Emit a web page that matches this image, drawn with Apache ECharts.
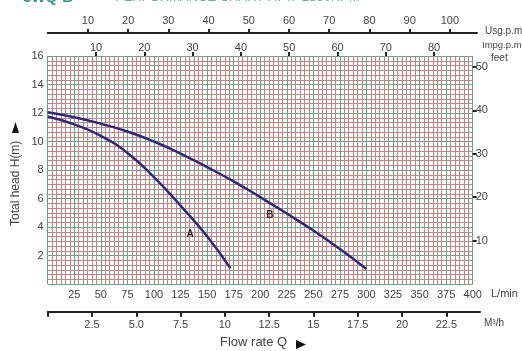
<!DOCTYPE html>
<html>
<head>
<meta charset="utf-8">
<script src="https://cdn.jsdelivr.net/npm/echarts@6/dist/echarts.min.js"></script>
<style>
html,body{margin:0;padding:0;background:#fff;}
#c{width:522px;height:351px;}
</style>
</head>
<body>
<div id="c"></div>
<script>
// ---- data ----
const curveA_Q = [0, 25, 50, 75, 100, 125, 150, 172];
const curveA_H = [11.75, 11.2, 10.4, 9.2, 7.5, 5.5, 3.35, 1.1];
const curveB_Q = [0, 25, 50, 75, 100, 125, 150, 175, 200, 225, 250, 275, 300];
const curveB_H = [12.05, 11.7, 11.25, 10.7, 10.0, 9.15, 8.2, 7.2, 6.1, 4.95, 3.75, 2.45, 1.05];
const curveNames = ['A', 'B'];
const curveLabelQ = [134, 209];
const curveLabelH = [3.5, 4.85];
const m3hTickLabels = ['', '2.5', '5.0', '7.5', '10', '12.5', '15', '17.5', '20', '22.5'];

const LPM_MAX = 400, H_MAX = 16;
const FT_MAX = H_MAX / 0.3048;
const IMP_MAX = LPM_MAX / 4.54609;

const font = 'Liberation Sans, Arial, sans-serif';
const lab = {color: '#3f3f3f', fontSize: 11, fontFamily: font};
const GREEN = '#62a585', RED = '#c48484';

function pairs(q, h) { return q.map((v, i) => [v, h[i]]); }

const chart = echarts.init(document.getElementById('c'));
chart.setOption({
  backgroundColor: '#fff',
  animation: false,
  grid: [
    {left: 47.7, right: 49.3, top: 56, bottom: 67},
    {left: 47.7, right: 45, top: 33, height: 1},
    {left: 47.7, right: 42, top: 310.7, height: 1}
  ],
  xAxis: [
    {gridIndex: 0, type: 'value', position: 'bottom', min: 0, max: LPM_MAX, interval: 25,
     axisLine: {show: false, onZero: false}, axisTick: {show: false},
     axisLabel: Object.assign({showMinLabel: false, margin: 5}, lab),
     splitLine: {show: true, lineStyle: {color: GREEN, width: 1}},
     minorTick: {show: false, splitNumber: 6},
     minorSplitLine: {show: true, lineStyle: {color: RED, width: 1}}},
    {gridIndex: 0, type: 'value', position: 'top', min: 0, max: IMP_MAX, interval: 10,
     axisLine: {show: false, onZero: false},
     axisTick: {show: true, length: 4, lineStyle: {color: '#222', width: 2}},
     axisLabel: Object.assign({showMinLabel: false, showMaxLabel: false, margin: 3}, lab),
     splitLine: {show: false}},
    {gridIndex: 1, type: 'value', position: 'top', min: 0, max: 106.74, interval: 10,
     axisLine: {show: true, onZero: false, lineStyle: {color: '#222', width: 2}},
     axisTick: {show: true, length: 4, lineStyle: {color: '#222', width: 2}},
     axisLabel: Object.assign({showMinLabel: false, showMaxLabel: false, margin: 7}, lab),
     splitLine: {show: false}},
    {gridIndex: 2, type: 'value', position: 'bottom', min: 0, max: 24.4, interval: 2.5,
     axisLine: {show: true, onZero: false, lineStyle: {color: '#222', width: 2}},
     axisTick: {show: true, length: 5, lineStyle: {color: '#222', width: 2}},
     axisLabel: Object.assign({margin: 8, showMaxLabel: false,
       formatter: (v) => { const i = Math.round(v / 2.5); return m3hTickLabels[i] || ''; }}, lab),
     splitLine: {show: false}}
  ],
  yAxis: [
    {gridIndex: 0, type: 'value', position: 'left', min: 0, max: H_MAX, interval: 2,
     axisLine: {show: false, onZero: false}, axisTick: {show: false},
     axisLabel: Object.assign({showMinLabel: false, margin: 4}, lab),
     splitLine: {show: true, lineStyle: {color: GREEN, width: 1}},
     minorTick: {show: false, splitNumber: 6},
     minorSplitLine: {show: true, lineStyle: {color: RED, width: 1}}},
    {gridIndex: 0, type: 'value', position: 'right', min: 0, max: FT_MAX, interval: 10,
     axisLine: {show: false, onZero: false},
     axisTick: {show: true, length: 4, lineStyle: {color: '#222', width: 2}},
     axisLabel: Object.assign({showMinLabel: false, showMaxLabel: false, margin: 3}, lab),
     splitLine: {show: false}},
    {gridIndex: 1, type: 'value', show: false, min: 0, max: 1},
    {gridIndex: 2, type: 'value', show: false, min: 0, max: 1}
  ],
  series: [
    {name: curveNames[0], type: 'line', xAxisIndex: 0, yAxisIndex: 0, smooth: 0.5, symbol: 'none',
     data: pairs(curveA_Q, curveA_H), lineStyle: {color: '#2b2a78', width: 2.5},
     markPoint: {symbol: 'circle', symbolSize: 0,
       data: [{coord: [curveLabelQ[0], curveLabelH[0]]}],
       label: {show: true, formatter: curveNames[0], color: '#3a2222', fontSize: 10, fontWeight: 'bold', fontFamily: font, position: 'inside'}}},
    {name: curveNames[1], type: 'line', xAxisIndex: 0, yAxisIndex: 0, smooth: 0.5, symbol: 'none',
     data: pairs(curveB_Q, curveB_H), lineStyle: {color: '#2b2a78', width: 2.5},
     markPoint: {symbol: 'circle', symbolSize: 0,
       data: [{coord: [curveLabelQ[1], curveLabelH[1]]}],
       label: {show: true, formatter: curveNames[1], color: '#3a2222', fontSize: 10, fontWeight: 'bold', fontFamily: font, position: 'inside'}}}
  ],
  graphic: [
    {type: 'text', left: 23, top: -10, style: {text: '3WQ-B-', fill: '#2f9a86', font: 'bold 15px ' + font}},
    {type: 'text', left: 115, top: -9, style: {text: 'PERFORMANCE CHART AT n=2850RPM', fill: '#5cb5a3', font: '13px ' + font}},
    {type: 'text', left: 485, top: 26, style: {text: 'Usg.p.m', fill: '#3f3f3f', font: '10px ' + font}},
    {type: 'text', left: 482, top: 40, style: {text: 'Impg.p.m', fill: '#3f3f3f', font: '9.5px ' + font}},
    {type: 'text', left: 491, top: 53, style: {text: 'feet', fill: '#3f3f3f', font: '10px ' + font}},
    {type: 'text', left: 491, top: 288, style: {text: 'L/min', fill: '#3f3f3f', font: '11px ' + font}},
    {type: 'text', left: 484, top: 318, style: {text: 'M³/h', fill: '#3f3f3f', font: '10px ' + font}},
    {type: 'text', left: 220, top: 336, style: {text: 'Flow rate Q', fill: '#3f3f3f', font: '13px ' + font}},
    {type: 'polygon', shape: {points: [[296, 340], [306, 344.5], [296, 349]]}, style: {fill: '#111'}},
    {type: 'text', x: 10, y: 226, rotation: Math.PI / 2, style: {text: 'Total head H(m)', fill: '#3f3f3f', font: '12px ' + font}},
    {type: 'polygon', shape: {points: [[12, 133], [15.5, 122], [19, 133]]}, style: {fill: '#111'}}
  ]
});
</script>
</body>
</html>
